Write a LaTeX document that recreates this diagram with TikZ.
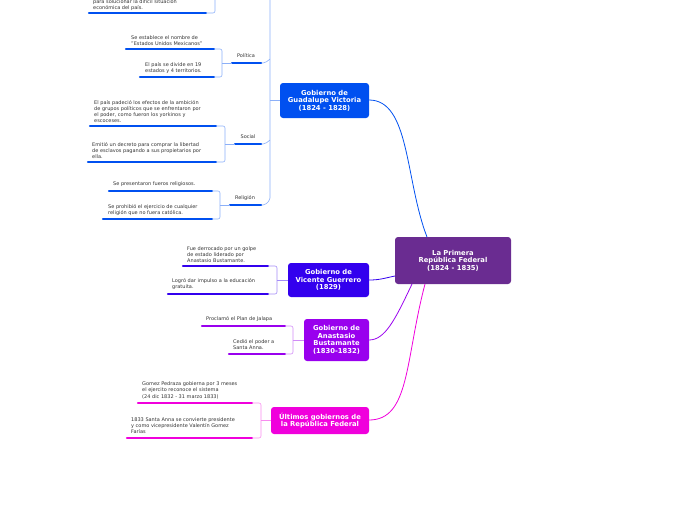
\documentclass[tikz,border=0pt]{standalone}
\usepackage{fontspec}
\setmainfont{DejaVu Sans}
\definecolor{croot}{HTML}{6A2C91}
\definecolor{cgv}{HTML}{0050F0}
\definecolor{cvg}{HTML}{3300EE}
\definecolor{cab}{HTML}{9900EE}
\definecolor{cul}{HTML}{F000DC}
\begin{document}
\begin{tikzpicture}[x=1pt,y=-1pt,
  box/.style={rounded corners=3pt,text=white,font=\fontsize{6.8}{7.6}\selectfont\bfseries,align=center,inner sep=0pt},
  leaf/.style={font=\fontsize{5}{6.2}\selectfont,align=left,inner sep=0pt,text=black!80,anchor=south west},
  lab/.style={font=\fontsize{5}{6}\selectfont,inner sep=0pt,text=black!80},
  ul/.style={line width=2.4pt,line cap=round},
  br/.style={line width=0.6pt,rounded corners=2pt},
  con/.style={line width=0.8pt}]
\useasboundingbox (0,0) rectangle (696,520);
% boxes
\fill[croot,rounded corners=3pt] (395,237) rectangle (511,284);
\node[box] (root) at (453,260.5) {La Primera\\República Federal\\(1824 - 1835)};
\fill[cgv,rounded corners=3pt] (280,83) rectangle (369,118);
\node[box] (gv) at (324.5,100.5) {Gobierno de\\Guadalupe Victoria\\(1824 - 1828)};
\fill[cvg,rounded corners=3pt] (288,263) rectangle (369,297);
\node[box] (vg) at (328.5,280) {Gobierno de\\Vicente Guerrero\\(1829)};
\fill[cab,rounded corners=3pt] (304,319) rectangle (369,361);
\node[box] (ab) at (336.5,340) {Gobierno de\\Anastasio\\Bustamante\\(1830-1832)};
\fill[cul,rounded corners=3pt] (271,407) rectangle (369,434);
\node[box] (ug) at (320,420.5) {Últimos gobiernos de\\la República Federal};
% root connectors
\draw[con,cgv] (427,237) .. controls (405,180) and (410,100) .. (369,100);
\draw[con,cvg] (395,276) .. controls (385,278) and (380,280) .. (369,280);
\draw[con,cab] (412,284) .. controls (395,320) and (385,340) .. (369,340);
\draw[con,cul] (425,284) .. controls (405,360) and (410,420) .. (369,420);
% Guadalupe branches
\draw[br,cgv!45] (280,100) -- (270,100);
\draw[br,cgv!45] (270,-5) -- (270,200) -- (265,205) -- (261,205);
\draw[br,cgv!45] (270,59) -- (265,63) -- (261,63);
\draw[br,cgv!45] (270,140) -- (265,144) -- (261,144);
\draw[ul,cgv] (232,63) -- (261,63); \node[lab] (pol) at (246,56) {Política};
\draw[ul,cgv] (235,144) -- (261,144); \node[lab] (soc) at (248,137) {Social};
\draw[ul,cgv] (230,205) -- (261,205); \node[lab] (rel) at (245,198) {Religión};
% top leaf
\node[leaf] (t0) at (93,11) {para solucionar la difícil situación\\económica del país.};
\draw[ul,cgv] (89,13) -- (206,13);
\draw[br,cgv!45] (206,13) -- (215,13) -- (215,-5);
% Politica leaves
\node[leaf] (p1) at (131,46) {Se establece el nombre de\\"Estados Unidos Mexicanos"};
\draw[ul,cgv] (126,49) -- (214,49);
\node[leaf] (p2) at (145,74) {El país se divide en 19\\estados y 4 territorios.};
\draw[ul,cgv] (140,77) -- (214,77);
\draw[br,cgv!45] (214,49) -- (222,49) -- (222,77) -- (214,77);
\draw[br,cgv!45] (222,63) -- (232,63);
% Social leaves
\node[leaf] (s1) at (94,123) {El país padeció los efectos de la ambición\\de grupos políticos que se enfrentaron por\\el poder, como fueron los yorkinos y\\escoceses.};
\draw[ul,cgv] (90,126) -- (216,126);
\node[leaf] (s2) at (92,159) {Emitió un decreto para comprar la libertad\\de esclavos pagando a sus propietarios por\\ella.};
\draw[ul,cgv] (88,162) -- (216,162);
\draw[br,cgv!45] (216,126) -- (225,126) -- (225,162) -- (216,162);
\draw[br,cgv!45] (225,144) -- (235,144);
% Religion leaves
\node[leaf] (r1) at (113,187) {Se presentaron fueros religiosos.};
\draw[ul,cgv] (109,191) -- (212,191);
\node[leaf] (r2) at (108,216) {Se prohibió el ejercicio de cualquier\\religión que no fuera católica.};
\draw[ul,cgv] (103,219) -- (212,219);
\draw[br,cgv!45] (212,191) -- (220,191) -- (220,219) -- (212,219);
\draw[br,cgv!45] (220,205) -- (230,205);
% Vicente Guerrero
\node[leaf] (v1) at (187,263) {Fue derrocado por un golpe\\de estado liderado por\\Anastasio Bustamante.};
\draw[ul,cvg] (183,266) -- (268,266);
\node[leaf] (v2) at (172,290) {Logró dar impulso a la educación\\gratuita.};
\draw[ul,cvg] (168,294) -- (268,294);
\draw[br,cvg!45] (268,266) -- (277,266) -- (277,294) -- (268,294);
\draw[br,cvg!45] (277,280) -- (288,280);
% Bustamante
\node[leaf] (b1) at (206,322) {Proclamó el Plan de Jalapa};
\draw[ul,cab] (202,326) -- (285,326);
\node[leaf] (b2) at (233,350) {Cedió el poder a\\Santa Anna.};
\draw[ul,cab] (229,354) -- (285,354);
\draw[br,cab!45] (285,326) -- (293,326) -- (293,354) -- (285,354);
\draw[br,cab!45] (293,340) -- (304,340);
% Ultimos
\node[leaf] (u1) at (142,399) {Gomez Pedraza gobierna por 3 meses\\el ejercito reconoce el sistema\\(24 dic 1832 - 31 marzo 1833)};
\draw[ul,cul] (138,403) -- (252,403);
\node[leaf] (u2) at (131,434) {1833 Santa Anna se convierte presidente\\y como vicepresidente Valentín Gomez\\Farías};
\draw[ul,cul] (127,438) -- (252,438);
\draw[br,cul!45] (252,403) -- (261,403) -- (261,438) -- (252,438);
\draw[br,cul!45] (261,420) -- (271,420);
\end{tikzpicture}
\end{document}
